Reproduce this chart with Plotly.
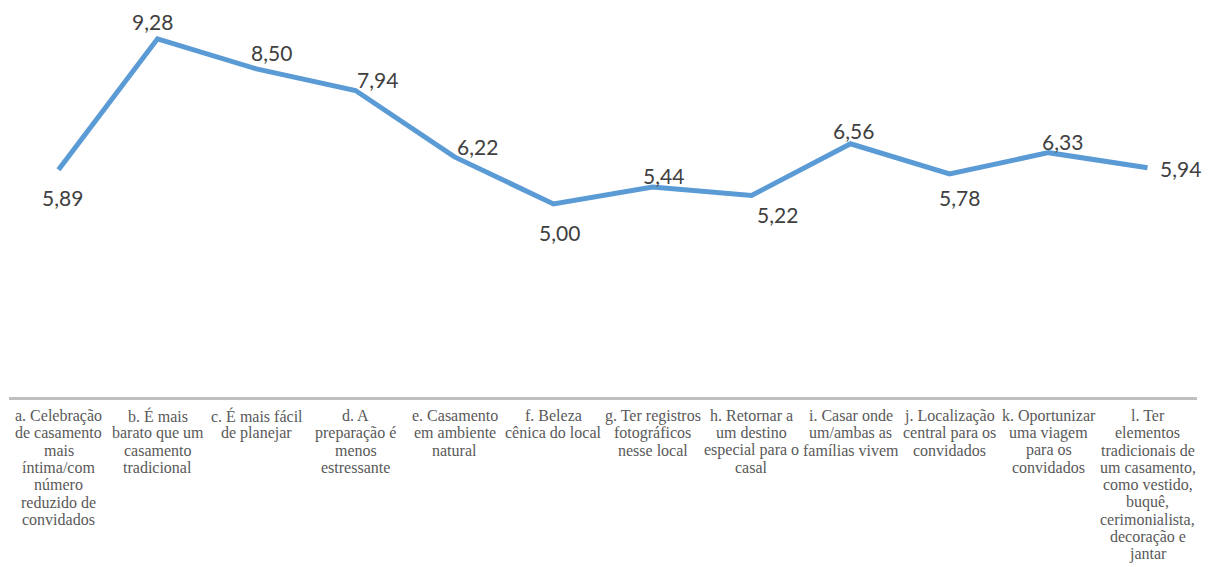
import plotly.graph_objects as go

categories = [
    "a. Celebração<br>de casamento<br>mais<br>íntima/com<br>número<br>reduzido de<br>convidados",
    "b. É mais<br>barato que um<br>casamento<br>tradicional",
    "c. É mais fácil<br>de planejar",
    "d. A<br>preparação é<br>menos<br>estressante",
    "e. Casamento<br>em ambiente<br>natural",
    "f. Beleza<br>cênica do local",
    "g. Ter registros<br>fotográficos<br>nesse local",
    "h. Retornar a<br>um destino<br>especial para o<br>casal",
    "i. Casar onde<br>um/ambas as<br>famílias vivem",
    "j. Localização<br>central para os<br>convidados",
    "k. Oportunizar<br>uma viagem<br>para os<br>convidados",
    "l. Ter<br>elementos<br>tradicionais de<br>um casamento,<br>como vestido,<br>buquê,<br>cerimonialista,<br>decoração e<br>jantar",
]
values = [5.89, 9.28, 8.50, 7.94, 6.22, 5.00, 5.44, 5.22, 6.56, 5.78, 6.33, 5.94]
value_labels = ["5,89", "9,28", "8,50", "7,94", "6,22", "5,00", "5,44", "5,22", "6,56", "5,78", "6,33", "5,94"]

# label offsets in pixels (styling)
label_dx = [4, -5, 15, 22, 23, 6, 11, 26, 3, 10, 14, 33]
label_dy = [-28, 17, 16, 11, 10, -28, 12, -19, 13, -24, 11, -1]

CAT_FONT = dict(family="Liberation Serif, Times New Roman, serif", size=16, color="#595959")
CAT_FIRST = 18.5   # px below axis of first line centre
CAT_STEP = 17.3    # px between lines

x_idx = list(range(len(values)))

fig = go.Figure()
fig.add_trace(go.Scatter(
    x=x_idx, y=values, mode="lines",
    line=dict(color="#5b9bd5", width=5, shape="linear"),
    hoverinfo="skip", showlegend=False,
))

for i, (v, t) in enumerate(zip(values, value_labels)):
    fig.add_annotation(
        x=i, y=v, text=t, showarrow=False,
        xshift=label_dx[i], yshift=label_dy[i],
        font=dict(family="Lato", size=21, color="#404040"),
    )

# category labels, one text per line for Office-like line spacing
for i, cat in enumerate(categories):
    for k, line in enumerate(cat.split("<br>")):
        fig.add_annotation(
            x=i, y=0, xref="x", yref="y", text=line, showarrow=False,
            xanchor="center", yanchor="middle",
            yshift=-(CAT_FIRST + k * CAT_STEP),
            font=CAT_FONT,
        )

fig.update_layout(
    width=1212, height=567,
    margin=dict(l=9, r=15, t=11, b=170, autoexpand=False),
    paper_bgcolor="white", plot_bgcolor="white",
    xaxis=dict(
        range=[-0.5, 11.5], tickmode="array", tickvals=x_idx,
        showticklabels=False,
        showline=True, linecolor="#bfbfbf", linewidth=3,
        showgrid=False, zeroline=False, ticks="", automargin=False,
    ),
    yaxis=dict(range=[0, 10], visible=False, showgrid=False, zeroline=False),
)

fig.write_html("out.html")
